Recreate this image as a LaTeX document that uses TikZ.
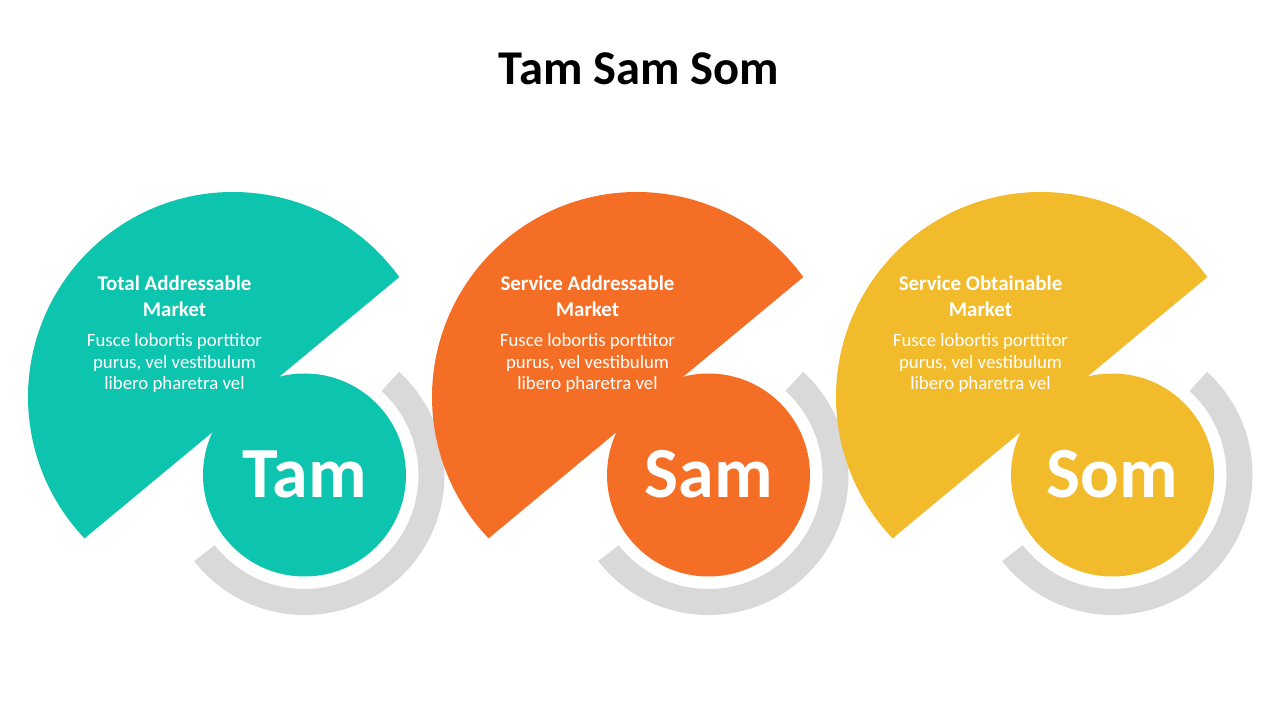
\documentclass[tikz,border=0pt]{standalone}
\usepackage{fontspec}
\setmainfont{Carlito}
\usepackage{tikz}
\usetikzlibrary{calc}
\definecolor{tamteal}{HTML}{0DC4AE}
\definecolor{samorange}{HTML}{F56E26}
\definecolor{somyellow}{HTML}{F2BB2C}
\definecolor{ringgray}{HTML}{D9D9D9}

\tikzset{
  headtext/.style={font=\fontsize{15.7}{19.5}\selectfont\bfseries, text=white, align=center, inner sep=0pt},
  bodytext/.style={font=\fontsize{14.1}{16.3}\selectfont, text=white, align=center, inner sep=0pt},
  bigtext/.style={font=\fontsize{54}{54}\selectfont\bfseries, text=white, inner sep=0pt},
}

\begin{document}
\begin{tikzpicture}[x=0.75pt, y=0.75pt]
\useasboundingbox (0,0) rectangle (1280,720);
\node[font=\fontsize{36.4}{40}\selectfont\bfseries, anchor=base] (title) at (639,635) {Tam Sam Som};
\foreach \dx/\col/\short/\head/\tx in {0/tamteal/Tam/Total Addressable/174.5,
    404/samorange/Sam/Service Addressable/587.5,
    808/somyellow/Som/Service Obtainable/980.5} {
  % big disc with the chord cut off
  \fill[\col] ($(233+\dx,323)+(35.8:205)$) arc[start angle=35.8, end angle=223.6, radius=205] -- cycle;
  % grey ring round the small disc
  \fill[ringgray] ($(304.5+\dx,245)+(-142:140)$) arc[start angle=-142, end angle=47.5, radius=140]
    -- ($(304.5+\dx,245)+(47.5:114)$) arc[start angle=47.5, end angle=-142, radius=114] -- cycle;
  \fill[\col] (304.5+\dx,245) circle[radius=101.5];
  \node[bigtext, anchor=base] (\short) at (304.5+\dx,222) {\short};
  \node[headtext, anchor=base] (\short-head) at (\tx,403.3) {\head\\Market};
  \node[bodytext, anchor=base] (\short-body) at (\tx,330) {Fusce lobortis porttitor\\purus, vel vestibulum\\libero pharetra vel};
}
\end{tikzpicture}
\end{document}
